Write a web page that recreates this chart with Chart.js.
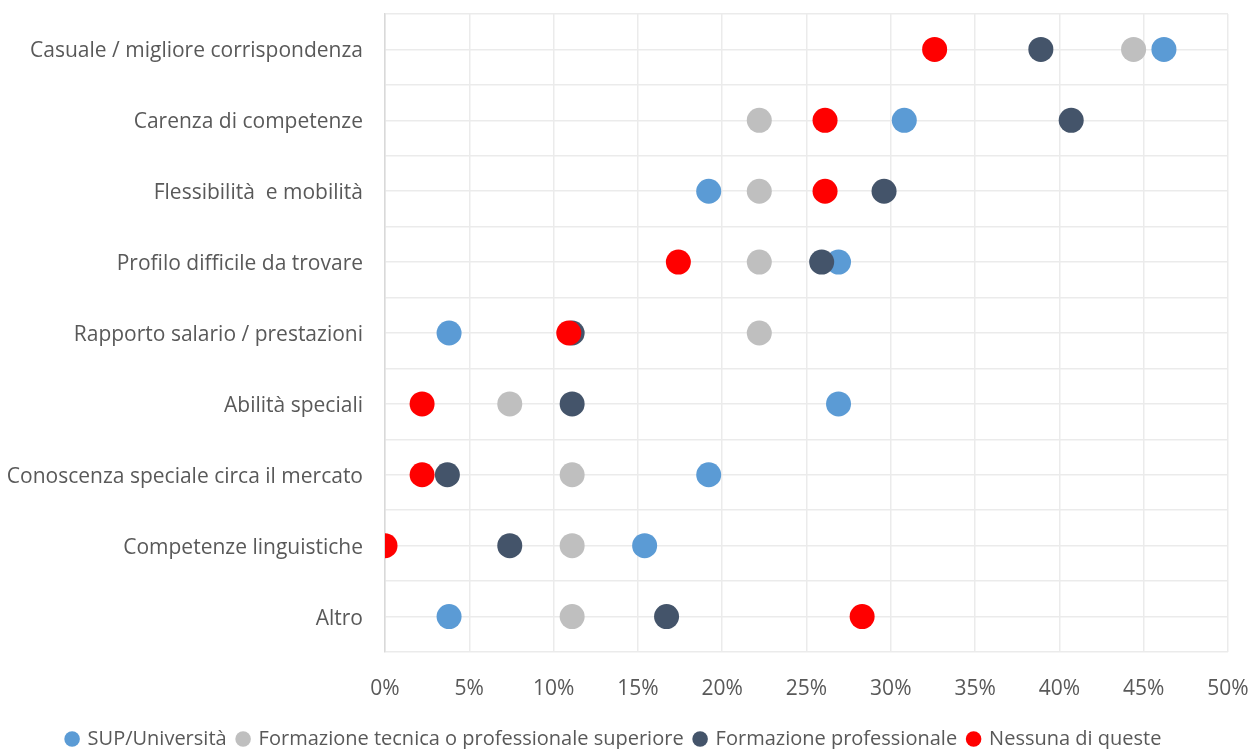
<!DOCTYPE html>
<html>
<head>
<meta charset="utf-8">
<script src="https://cdn.jsdelivr.net/npm/chart.js@4.4.1/dist/chart.umd.min.js"></script>
<style>
html,body{margin:0;padding:0;background:#fff;}
#wrap{width:1258px;height:749px;position:relative;}
</style>
</head>
<body>
<div id="wrap"><canvas id="c" width="1258" height="749"></canvas></div>
<script>
const categories = [
  "Casuale / migliore corrispondenza",
  "Carenza di competenze",
  "Flessibilità  e mobilità",
  "Profilo difficile da trovare",
  "Rapporto salario / prestazioni",
  "Abilità speciali",
  "Conoscenza speciale circa il mercato",
  "Competenze linguistiche",
  "Altro"
];
const seriesNames = [
  "SUP/Università",
  "Formazione tecnica o professionale superiore",
  "Formazione professionale",
  "Nessuna di queste"
];
const supUniversita = [46.2, 30.8, 19.2, 26.9, 3.8, 26.9, 19.2, 15.4, 3.8];
const formTecnica   = [44.4, 22.2, 22.2, 22.2, 22.2, 7.4, 11.1, 11.1, 11.1];
const formProf      = [38.9, 40.7, 29.6, 25.9, 11.1, 11.1, 3.7, 7.4, 16.7];
const nessuna       = [32.6, 26.1, 26.1, 17.4, 10.9, 2.2, 2.2, 0.0, 28.3];
const xTicks = [0, 5, 10, 15, 20, 25, 30, 35, 40, 45, 50];

const colors = ["#5B9BD5", "#BFBFBF", "#44546A", "#FF0000"];
const allSeries = [supUniversita, formTecnica, formProf, nessuna];
const FONT = "'Open Sans'";
const FS = 21;

const datasets = allSeries.map((vals, i) => ({
  label: seriesNames[i],
  data: vals.map((v, j) => ({x: v, y: j + 1})),
  backgroundColor: colors[i],
  borderColor: colors[i],
  borderWidth: 0,
  pointRadius: 12.5,
  pointHoverRadius: 12.5,
  showLine: false,
  order: 4 - i
}));

const shiftLegend = {
  id: 'shiftLegend',
  afterLayout(chart) {
    if (chart.legend) { chart.legend.top += 10; chart.legend.bottom += 10; }
  }
};

new Chart(document.getElementById('c'), {
  type: 'scatter',
  data: {datasets},
  plugins: [shiftLegend],
  options: {
    responsive: false,
    animation: false,
    events: [],
    layout: {padding: {top: 14, right: 30, bottom: 0, left: 0}},
    plugins: {
      tooltip: {enabled: false},
      legend: {
        position: 'bottom',
        reverse: true,
        labels: {
          usePointStyle: true,
          pointStyle: 'circle',
          boxWidth: 11,
          boxHeight: 11,
          padding: 11,
          color: '#595959',
          font: {family: FONT, size: 20}
        }
      }
    },
    scales: {
      x: {
        type: 'linear',
        min: 0, max: 50,
        afterBuildTicks: s => { s.ticks = xTicks.map(v => ({value: v})); },
        afterFit: s => { s.paddingRight = 0; s.paddingLeft = 0; s.height = 56; },
        ticks: {
          callback: v => v + '%',
          color: '#595959',
          font: {family: FONT, size: FS},
          padding: 24,
          maxRotation: 0
        },
        grid: {color: '#EBEBEB', lineWidth: 1.5, drawTicks: false},
        border: {display: false}
      },
      y: {
        type: 'linear',
        reverse: true,
        min: 0.5, max: 9.5,
        afterBuildTicks: s => {
          const t = [];
          for (let k = 1; k <= 19; k++) t.push({value: 0.5 * k});
          s.ticks = t;
        },
        afterFit: s => { s.width = 385; s.paddingTop = 0; s.paddingBottom = 0; },
        ticks: {
          autoSkip: false,
          callback: v => (Number.isInteger(v) ? categories[v - 1] : ''),
          color: '#595959',
          font: {family: FONT, size: FS},
          padding: 22,
          labelOffset: 2
        },
        grid: {color: '#EBEBEB', lineWidth: 1.5, drawTicks: false},
        border: {display: true, color: '#D9D9D9', width: 1.5}
      }
    }
  }
});
</script>
</body>
</html>
